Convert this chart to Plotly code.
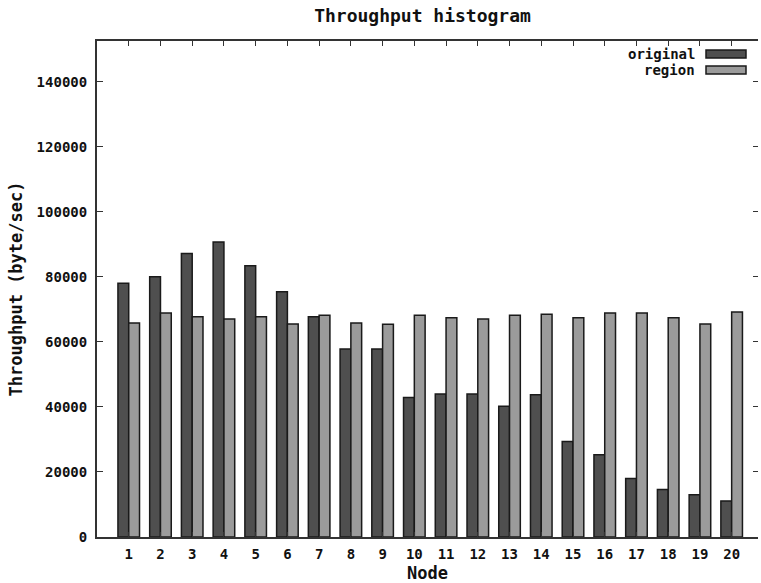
import plotly.graph_objects as go

nodes = list(range(1, 21))
original = [78000, 80000, 87200, 90700, 83400, 75400, 67700, 57800, 57800, 42900,
            44000, 44000, 40200, 43700, 29400, 25300, 18000, 14600, 13000, 11100]
region = [65800, 68900, 67700, 67000, 67700, 65500, 68200, 65800, 65400, 68200,
          67400, 67000, 68200, 68500, 67400, 68900, 68900, 67400, 65500, 69200]
ytick_vals = [0, 20000, 40000, 60000, 80000, 100000, 120000, 140000]
ytick_text = [str(v) for v in ytick_vals]
series_names = ["original", "region"]
series_colors = ["#4f4f4f", "#9b9b9b"]

W, H = 761, 583
L, R, T, B = 97, 3, 41, 46
YMAX = 152500
XR = [0, 20.83]

FONT = "DejaVu Sans Mono"

fig = go.Figure()
for name, vals, col in zip(series_names, [original, region], series_colors):
    fig.add_trace(go.Bar(x=nodes, y=vals, name=name, marker=dict(color=col, line=dict(color="#1a1a1a", width=1.5)),
                         showlegend=False))
fig.add_trace(go.Scatter(x=[None], y=[None], yaxis="y2", showlegend=False, hoverinfo="skip"))

pw = W - L - R
ph = H - T - B
def px(x):
    return (x - L) / pw
def py(y):
    return (H - B - y) / ph

leg_rows = [54, 70]
for name, col, yc in zip(series_names, series_colors, leg_rows):
    fig.add_annotation(x=px(697), y=py(yc), xref="paper", yref="paper", text=name, showarrow=False,
                       xanchor="right", yanchor="middle", font=dict(family=FONT, size=14, color="#111", weight="bold"))
    fig.add_shape(type="rect", xref="paper", yref="paper", x0=px(706), x1=px(746), y0=py(yc - 4), y1=py(yc + 4),
                  fillcolor=col, line=dict(color="#1a1a1a", width=1.5))

fig.update_layout(
    width=W, height=H,
    margin=dict(l=L, r=R, t=T, b=B),
    paper_bgcolor="white", plot_bgcolor="white",
    barmode="group", bargap=0.32, bargroupgap=0,
    title=dict(text="Throughput histogram", x=(307 + 538) / 2 / W, xanchor="center", y=1 - 15.5 / H, yanchor="middle",
               yref="container", xref="container", font=dict(family=FONT, size=18, color="#111", weight="bold")),
    xaxis=dict(range=XR, tickvals=nodes, ticktext=[str(n) for n in nodes], ticks="inside", ticklen=5,
               tickcolor="#333", showline=True, linecolor="#333", linewidth=2, mirror="ticks", showgrid=False,
               zeroline=False, tickfont=dict(family=FONT, size=14, color="#111", weight="bold"),
               ticklabelstandoff=3, automargin=False,
               title=dict(text="Node", standoff=6, font=dict(family=FONT, size=17, color="#111", weight="bold"))),
    yaxis=dict(range=[0, YMAX], tickvals=ytick_vals, ticktext=ytick_text, ticks="inside", ticklen=6,
               tickcolor="#333", showline=True, linecolor="#333", linewidth=2, showgrid=False, zeroline=False,
               tickfont=dict(family=FONT, size=14, color="#111", weight="bold"), ticklabelstandoff=5,
               automargin=False,
               title=dict(text="Throughput (byte/sec)", standoff=10,
                          font=dict(family=FONT, size=17, color="#111", weight="bold"))),
    yaxis2=dict(range=[0, YMAX], overlaying="y", side="right", anchor="x", tickvals=ytick_vals, ticks="inside",
                ticklen=5, tickcolor="#333", showticklabels=False, showline=False, automargin=False,
                showgrid=False, zeroline=False),
)

fig.write_html("out.html")
